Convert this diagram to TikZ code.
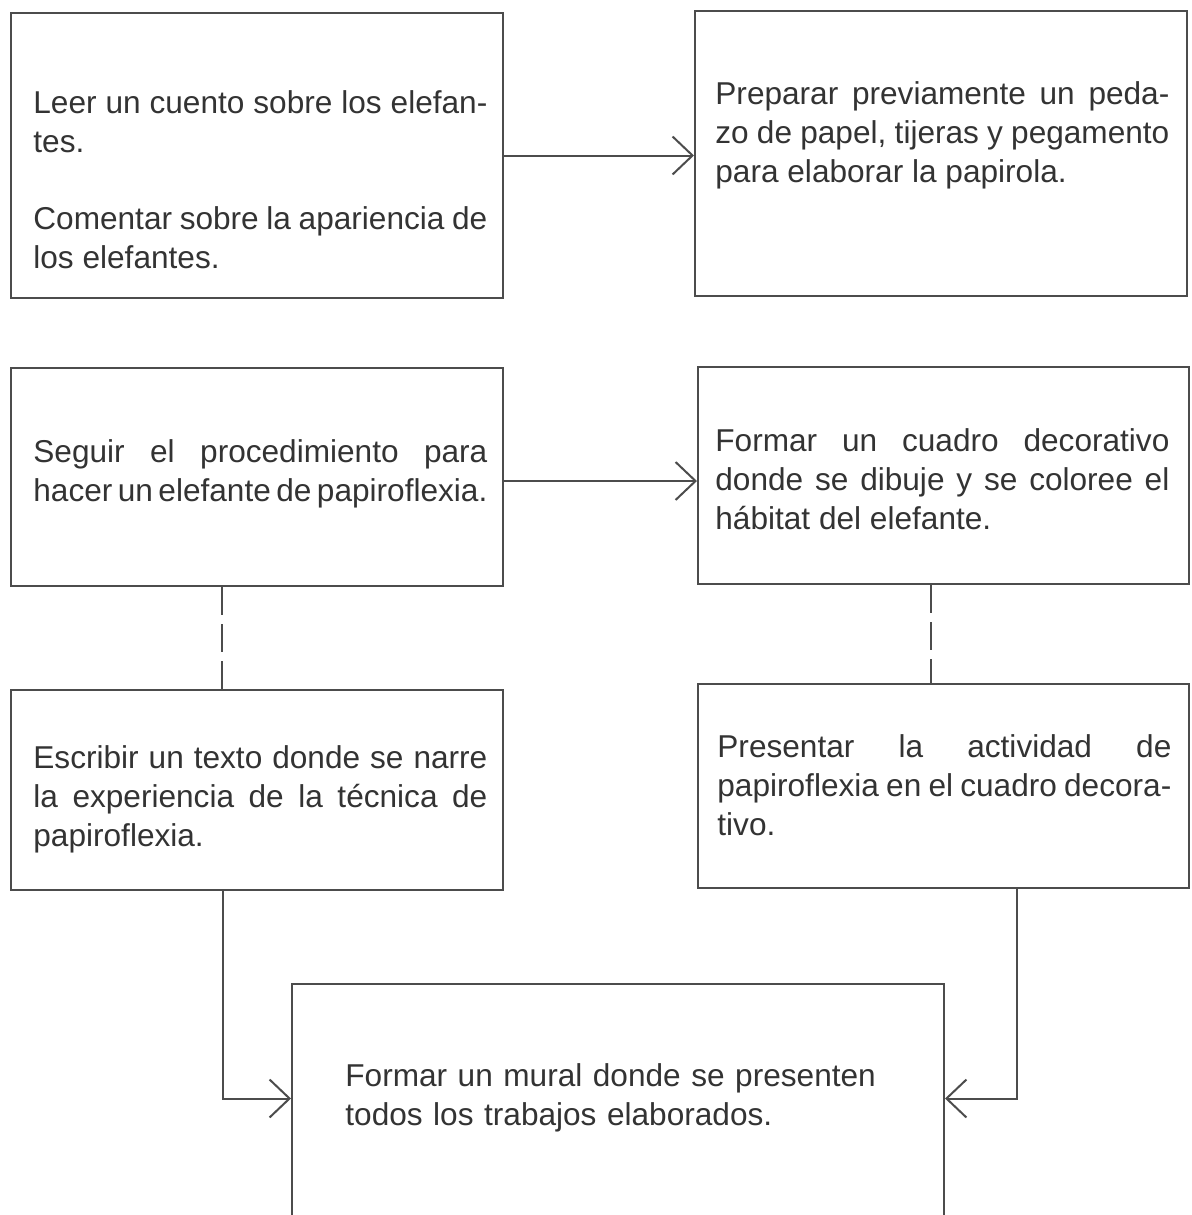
\documentclass[tikz,border=0pt]{standalone}
\usepackage{fontspec}
\setmainfont{Liberation Sans}
\usepackage{tikz}
\usetikzlibrary{positioning,arrows.meta}
\newcommand{\fuentecaja}{\fontsize{15.8}{19.5}\selectfont}
\newcommand{\fuenteapretada}{\fuentecaja\spaceskip 0.278em plus 0.4em minus 0.2em\relax}

\begin{document}
\begin{tikzpicture}[x=0.5pt, y=-0.5pt, >={Straight Barb[length=10pt, width=19pt]},
    caja/.style={draw=black!70, line width=1pt, inner sep=0pt, anchor=north west},
    texto/.style={inner sep=0pt, text width=227pt, align=justify, text=black!80, font=\fuenteapretada},
    flecha/.style={->, draw=black!70, line width=1pt},
    guion/.style={draw=black!70, line width=1pt, dash pattern=on 14pt off 4.5pt}]
    \useasboundingbox (0,0) rectangle (1191,1215);
        % cajas
        \node[caja, minimum width=246pt, minimum height=142.5pt] (leer) at (10,12) {};
        \node[caja, minimum width=246pt, minimum height=142.5pt] (preparar) at (694,10) {};
        \node[caja, minimum width=246pt, minimum height=109pt] (seguir) at (10,367) {};
        \node[caja, minimum width=245.5pt, minimum height=108.5pt] (formar) at (697,366) {};
        \node[caja, minimum width=246pt, minimum height=100pt] (escribir) at (10,689) {};
        \node[caja, minimum width=245.5pt, minimum height=102pt] (presentar) at (697,683) {};
        \node[caja, minimum width=326pt, minimum height=138.5pt] (mural) at (291,983) {};
        % textos
        \node[texto, below right=39pt and 11.5pt of leer.north west] (leertxt)
            {Leer un cuento sobre los elefan-\linebreak tes.\\[19pt]
             Comentar sobre la apariencia de\linebreak los elefantes.};
        \node[texto, below right=35.5pt and 10.5pt of preparar.north west] (prepararTxt)
            {Preparar previamente un peda-\linebreak zo de papel, tijeras y pegamento\linebreak para elaborar la papirola.};
        \node[texto, below right=36pt and 11.5pt of seguir.north west] (seguirtxt)
            {Seguir el procedimiento para\linebreak hacer un elefante de papiroflexia.};
        \node[texto, below right=31pt and 9pt of formar.north west] (formartxt)
            {Formar un cuadro decorativo\linebreak donde se dibuje y se coloree el\linebreak hábitat del elefante.};
        \node[texto, below right=28pt and 11.5pt of escribir.north west] (escribirtxt)
            {Escribir un texto donde se narre\linebreak la experiencia de la técnica de\linebreak papiroflexia.};
        \node[texto, below right=25.5pt and 10pt of presentar.north west] (presentartxt)
            {Presentar la actividad de\linebreak papiroflexia en el cuadro decora-\linebreak tivo.};
        \node[texto, text width=290pt, align=left, font=\fuentecaja,
            below right=40pt and 27pt of mural.north west] (muraltxt)
            {Formar un mural donde se presenten\\ todos los trabajos elaborados.};
        % conectores
        \draw[flecha] (leer) -- (leer -| preparar.west);
        \draw[flecha] ([yshift=-2pt]seguir.east) -- ([yshift=-2pt]seguir.east -| formar.west);
        \draw[guion] ([xshift=-17.5pt]seguir.south) -- ([xshift=-17.5pt]seguir.south |- escribir.north);
        \draw[guion] ([xshift=-6.25pt]formar.south) -- ([xshift=-6.25pt]formar.south |- presentar.north);
        \draw[flecha] ([xshift=-17pt]escribir.south) |- ([yshift=12pt]mural.west);
        \draw[flecha] ([xshift=36.5pt]presentar.south) |- ([yshift=12pt]mural.east);
\end{tikzpicture}
\end{document}
